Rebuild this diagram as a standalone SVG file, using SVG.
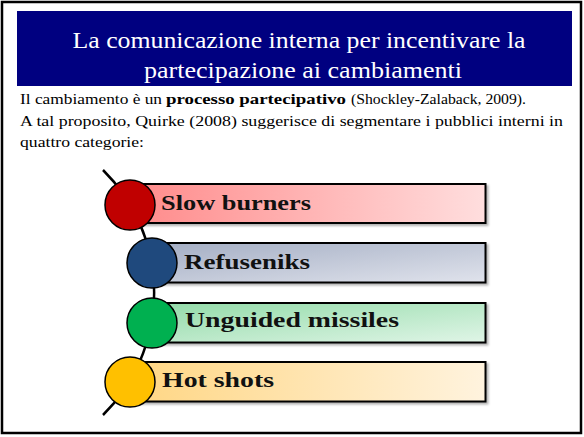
<svg xmlns="http://www.w3.org/2000/svg" width="584" height="437" viewBox="0 0 584 437">
<style>
text{font-family:'Liberation Serif','Times New Roman',serif}
.title{font-size:24px;fill:#fff}
.body{font-size:15.5px;fill:#000}
.b{font-weight:bold}
.lbl{font-size:22px;font-weight:bold;fill:#111}
.bar{stroke:#000;stroke-width:2;filter:url(#sh)}
.dot{stroke:#000;stroke-width:1.5}
</style>
<defs>
<filter id="sh" x="-5%" y="-20%" width="110%" height="150%">
<feDropShadow dx="2" dy="2" stdDeviation="1" flood-color="#000" flood-opacity="0.3"/>
</filter>
<linearGradient id="g1" x1="0" y1="0" x2="1" y2="0"><stop offset="0" stop-color="#FF8A8A"/><stop offset="1" stop-color="#FFDEDE"/></linearGradient>
<linearGradient id="g2" x1="0" y1="0" x2="1" y2="1"><stop offset="0" stop-color="#A4AEC4"/><stop offset="1" stop-color="#E0E3EC"/></linearGradient>
<linearGradient id="g3" x1="0" y1="0" x2="1" y2="1"><stop offset="0" stop-color="#92DBA8"/><stop offset="1" stop-color="#E0F5E7"/></linearGradient>
<linearGradient id="g4" x1="0" y1="0" x2="1" y2="0"><stop offset="0" stop-color="#FFD683"/><stop offset="1" stop-color="#FFF3DE"/></linearGradient>
</defs>
<rect x="2" y="2" width="579" height="431" fill="#fff" stroke="#000" stroke-width="2.5"/>
<g id="title">
<rect x="17" y="11" width="555" height="75" fill="#000080"/>
<text class="title" x="299" y="48" text-anchor="middle" textLength="453" lengthAdjust="spacingAndGlyphs">La comunicazione interna per incentivare la</text>
<text class="title" x="303" y="78" text-anchor="middle" textLength="318" lengthAdjust="spacingAndGlyphs">partecipazione ai cambiamenti</text>
</g>
<g id="intro">
<text class="body" x="20" y="104" textLength="142" lengthAdjust="spacingAndGlyphs">Il cambiamento è un</text>
<text class="body b" x="166" y="104" textLength="180" lengthAdjust="spacingAndGlyphs">processo partecipativo</text>
<text class="body" x="351" y="104" textLength="175" lengthAdjust="spacingAndGlyphs">(Shockley-Zalaback, 2009).</text>
<text class="body" x="20" y="126" textLength="543" lengthAdjust="spacingAndGlyphs">A tal proposito, Quirke (2008) suggerisce di segmentare i pubblici interni in</text>
<text class="body" x="20" y="147" textLength="124" lengthAdjust="spacingAndGlyphs">quattro categorie:</text>
</g>
<g id="connectors">
<path d="M103,170 A172.3,172.3 0 0 1 103,415" fill="none" stroke="#000" stroke-width="2.5"/>
</g>
<g id="slow-burners">
<rect class="bar" x="130" y="184" width="355.5" height="39" fill="url(#g1)"/>
<circle class="dot" cx="130" cy="205" r="25" fill="#C00000"/>
<text class="lbl" x="161" y="210" textLength="150" lengthAdjust="spacingAndGlyphs">Slow burners</text>
</g>
<g id="refuseniks">
<rect class="bar" x="152" y="243" width="333.5" height="39.5" fill="url(#g2)"/>
<circle class="dot" cx="152" cy="263" r="25" fill="#1F497D"/>
<text class="lbl" x="184" y="269" textLength="126" lengthAdjust="spacingAndGlyphs">Refuseniks</text>
</g>
<g id="unguided-missiles">
<rect class="bar" x="152" y="303" width="333.5" height="39.5" fill="url(#g3)"/>
<circle class="dot" cx="152" cy="323" r="25" fill="#00B050"/>
<text class="lbl" x="185" y="327" textLength="214" lengthAdjust="spacingAndGlyphs">Unguided missiles</text>
</g>
<g id="hot-shots">
<rect class="bar" x="130" y="362" width="355.5" height="39.5" fill="url(#g4)"/>
<circle class="dot" cx="130" cy="382" r="25" fill="#FFC000"/>
<text class="lbl" x="162" y="387" textLength="112" lengthAdjust="spacingAndGlyphs">Hot shots</text>
</g>
</svg>
